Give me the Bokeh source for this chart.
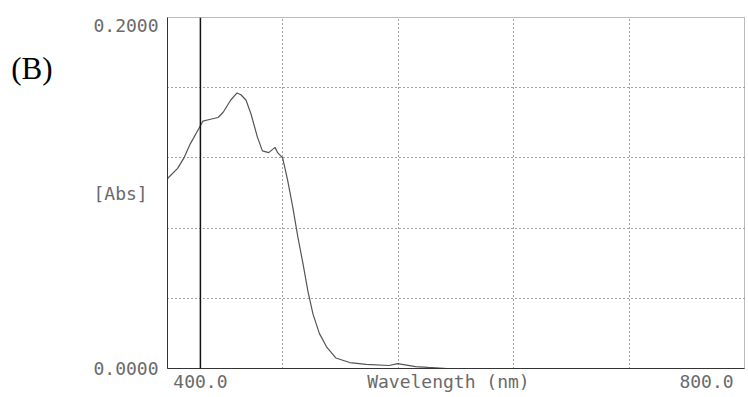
from bokeh.plotting import figure
from bokeh.models import Range1d, FixedTicker, Span, LinearAxis
from bokeh.embed import file_html
from bokeh.resources import INLINE

# Spectrum
wavelength = [374, 375, 382, 387, 392, 399, 402, 408, 414, 418, 424, 429, 432, 436, 440,
              445, 449, 454, 459, 461, 465, 469, 473, 477, 481, 485, 489, 494, 500,
              507, 518, 531, 549, 556, 570, 580, 595]
absorbance = [0.108, 0.109, 0.114, 0.120, 0.128, 0.137, 0.141, 0.142, 0.143, 0.146, 0.153,
              0.157, 0.156, 0.153, 0.145, 0.132, 0.124, 0.123, 0.126, 0.123, 0.120,
              0.107, 0.092, 0.075, 0.060, 0.044, 0.031, 0.020, 0.012, 0.006, 0.0034,
              0.0023, 0.0017, 0.0028, 0.0011, 0.0006, 0.0]

x_ticks = [400, 596, 800]
x_tick_labels = {400: "400.0", 596: "Wavelength (nm)", 800: "800.0"}
y_ticks = [0.0, 0.1, 0.1955]
y_tick_labels = {0.0: "0.0000", 0.1: "[Abs]" + "\u00a0", 0.1955: "0.2000"}
panel_tick = [0.171]
panel_label = {0.171: "(B)"}
grid_x = [465.2, 556.4, 647.6, 738.8]
grid_y = [0.04, 0.08, 0.12, 0.16]
marker_wavelength = 400

mono = "DejaVu Sans Mono"
txt = "#6a6a6a"

p = figure(width=746, height=395, x_range=Range1d(374, 830), y_range=Range1d(0, 0.2),
           output_backend="svg", toolbar_location=None,
           min_border_left=167, min_border_right=2, min_border_top=17, min_border_bottom=27)

p.outline_line_color = "#777777"
p.outline_line_dash = "1 1"
p.background_fill_color = "white"
p.border_fill_color = "white"

p.xgrid.ticker = FixedTicker(ticks=grid_x)
p.ygrid.ticker = FixedTicker(ticks=grid_y)
for g in (p.xgrid, p.ygrid):
    g.grid_line_color = "#444444"
    g.grid_line_dash = "1 3"
    g.grid_line_width = 1

p.xaxis.ticker = FixedTicker(ticks=x_ticks)
p.xaxis.major_label_overrides = x_tick_labels
p.yaxis.ticker = FixedTicker(ticks=y_ticks)
p.yaxis.major_label_overrides = y_tick_labels
for ax in (p.xaxis, p.yaxis):
    ax.major_label_text_font = mono
    ax.major_label_text_font_size = "18px"
    ax.major_label_text_color = txt
    ax.major_tick_out = 0
    ax.major_tick_in = 0
    ax.minor_tick_out = 0
    ax.minor_tick_in = 0
    ax.axis_line_color = "#333333"
    ax.axis_line_width = 1
p.xaxis.major_label_standoff = 2
p.yaxis.major_label_standoff = 9

panel_axis = LinearAxis(ticker=FixedTicker(ticks=panel_tick), major_label_overrides=panel_label,
                        major_label_text_font="Liberation Serif", major_label_text_font_size="31px",
                        major_label_text_color="#000000", axis_line_color=None,
                        major_tick_out=0, major_tick_in=0, minor_tick_out=0, minor_tick_in=0,
                        major_label_standoff=38)
p.add_layout(panel_axis, "left")

p.add_layout(Span(location=marker_wavelength, dimension="height", line_color="#111111", line_width=1.5))

p.line(wavelength, absorbance, line_color="#555555", line_width=1.2)

open("out.html", "w").write(file_html(p, INLINE))
